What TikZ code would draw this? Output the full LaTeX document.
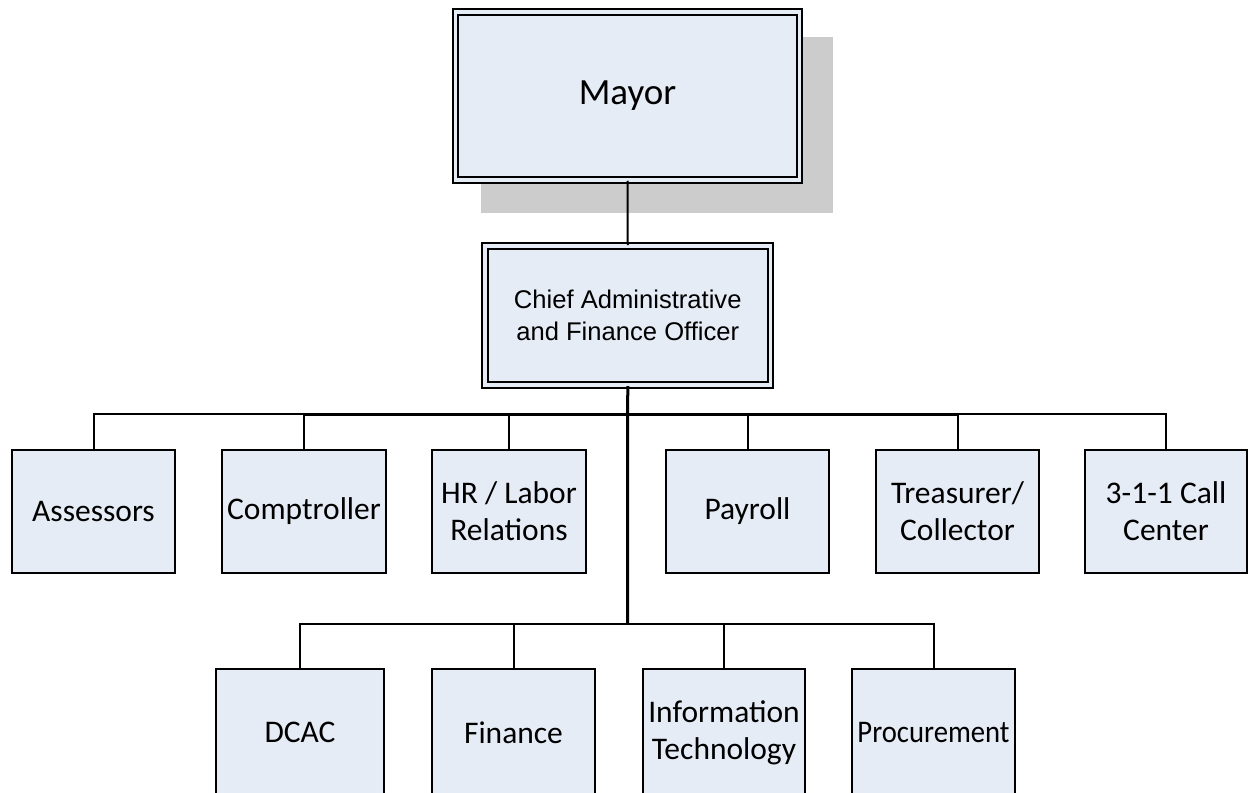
\documentclass[tikz,border=0pt]{standalone}
\usepackage{graphicx}
\usepackage{fontspec}
\setmainfont{Carlito}
\newfontfamily\arialfont{Liberation Sans}
\usetikzlibrary{calc,backgrounds}
\definecolor{boxfill}{HTML}{E6ECF6}
\definecolor{shadowgrey}{HTML}{CCCCCC}
\begin{document}
\begin{tikzpicture}[x=1pt,y=-1pt,
  unitbox/.style={draw=black, line width=2pt, fill=boxfill, inner sep=0pt, align=center,
    font=\fontsize{31.5}{37}\selectfont, minimum width=163pt, minimum height=123pt},
  lowbox/.style={unitbox, minimum height=127pt},
  headbox/.style={draw=black, line width=2pt, double=boxfill, double distance=3.5pt,
    fill=boxfill, inner sep=0pt, align=center},
  link/.style={line width=2pt},
  trunk/.style={line width=3pt}]
\useasboundingbox (0,0) rectangle (1249,792);

% head boxes
\node[headbox, minimum width=344pt, minimum height=167.5pt,
      font=\fontsize{37}{44}\selectfont] (mayor) at (627.5,96) {Mayor};
\node[headbox, minimum width=285.5pt, minimum height=139pt,
      font=\arialfont\fontsize{25.6}{32}\selectfont] (cafo) at (627.75,315.5)
      {Chief Administrative\\and Finance Officer};

% first row
\node[unitbox] (assessors) at (93.5,511.5) {Assessors};
\node[unitbox, minimum width=164pt] (comptroller) at (304,511.5) {Comptroller};
\node[unitbox, minimum width=154pt] (hr) at (509,511.5) {HR / Labor\\Relations};
\node[unitbox] (payroll) at (747.5,511.5) {Payroll};
\node[unitbox] (treasurer) at (957.5,511.5) {Treasurer/\\Collector};
\node[unitbox, minimum width=162pt] (callcenter) at (1166,511.5) {3-1-1 Call\\Center};

% second row (cut by the lower edge of the picture)
\node[lowbox, minimum width=168pt] (dcac) at (300,732.5) {DCAC};
\node[lowbox] (finance) at (513.5,732.5) {Finance};
\node[lowbox, minimum width=162pt] (it) at (724,732.5) {Information\\Technology};
\node[lowbox] (procurement) at (933.5,732.5) {\scalebox{0.91}[1]{Procurement}};

% buses
\coordinate (bus1) at (627.5,414);
\coordinate (bus2) at (627.5,624);

% connectors
\draw[link] (mayor.south) -- (cafo.north);
\draw[trunk] (cafo.south) -- (bus2);
\foreach \n in {assessors,comptroller,hr,payroll,treasurer,callcenter}
  \draw[link] (bus1) -| (\n.north);
\draw[trunk] (comptroller.north |- bus1) -- (treasurer.north |- bus1);
\foreach \n in {dcac,finance,it,procurement}
  \draw[link] (bus2) -| (\n.north);

% background and shadow
\begin{scope}[on background layer]
  \fill[white] (0,0) rectangle (1249,792);
  \fill[shadowgrey] ($(mayor.north west)+(26.5,25.5)$) rectangle ($(mayor.south east)+(32.5,32)$);
\end{scope}
\end{tikzpicture}
\end{document}
